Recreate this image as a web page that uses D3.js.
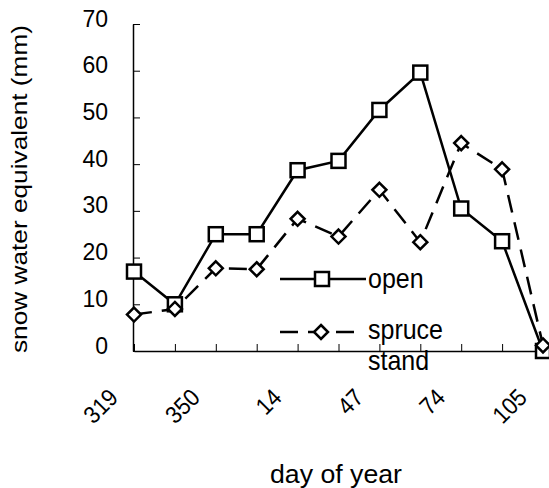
<!DOCTYPE html>
<html>
<head>
<meta charset="utf-8">
<script src="https://cdn.jsdelivr.net/npm/d3@7/dist/d3.min.js"></script>
<style>
  html, body { margin: 0; padding: 0; background: #fff; }
  svg { display: block; font-family: "Liberation Sans", Arial, sans-serif; }
</style>
</head>
<body>
<svg id="chart" width="549" height="488"></svg>
<script>
// ---- data ----
const categories = [1, 2, 3, 4, 5, 6, 7, 8, 9, 10, 11];
const dayLabels = ["319", "", "350", "", "14", "", "47", "", "74", "", "105"];
const openValues = [17, 10, 25, 25, 38.7, 40.7, 51.6, 59.6, 30.5, 23.5, 0];
const spruceValues = [7.8, 9, 17.7, 17.5, 28.3, 24.5, 34.5, 23.3, 44.5, 38.9, 1.2];
const yTicks = [0, 10, 20, 30, 40, 50, 60, 70];
const seriesNames = ["open", "spruce"];

const svg = d3.select("#chart");
const x = d3.scalePoint().domain(categories).range([134, 543]);
const y = d3.scaleLinear().domain([0, 70]).range([351, 24]);

// ---- axes ----
const xAxis = svg.append("g")
  .attr("transform", "translate(0,351)")
  .call(d3.axisBottom(x).tickSizeInner(-7).tickSizeOuter(0)
    .tickFormat((d, i) => dayLabels[i]));
xAxis.select(".domain").attr("stroke", "#000").attr("stroke-width", 1.5);
xAxis.selectAll(".tick line").attr("stroke", "#000").attr("stroke-width", 1);
xAxis.selectAll(".tick text")
  .attr("x", 0).attr("y", 0).attr("dy", 0)
  .attr("transform", "translate(-15,48) rotate(-45) scale(1,1.1)")
  .attr("text-anchor", "end")
  .attr("font-size", 22)
  .attr("font-family", "Liberation Sans, Arial, sans-serif")
  .attr("fill", "#000");

const yAxis = svg.append("g")
  .attr("transform", "translate(133,0)")
  .call(d3.axisLeft(y).tickValues(yTicks).tickSizeInner(-7).tickSizeOuter(0));
yAxis.select(".domain").attr("stroke", "#000").attr("stroke-width", 1.5);
yAxis.selectAll(".tick line").attr("stroke", "#000").attr("stroke-width", 1);
yAxis.selectAll(".tick text")
  .attr("x", -25).attr("dy", "0.35em")
  .attr("transform", "translate(0,-6)")
  .attr("text-anchor", "end")
  .attr("font-size", 23)
  .attr("font-family", "Liberation Sans, Arial, sans-serif")
  .attr("fill", "#000");

// ---- titles ----
svg.append("text")
  .attr("x", 336).attr("y", 483)
  .attr("text-anchor", "middle")
  .attr("font-size", 25)
  .attr("textLength", 132).attr("lengthAdjust", "spacingAndGlyphs")
  .text("day of year");

svg.append("text")
  .attr("transform", "translate(27,189) rotate(-90)")
  .attr("text-anchor", "middle")
  .attr("font-size", 22)
  .attr("textLength", 328).attr("lengthAdjust", "spacingAndGlyphs")
  .text("snow water equivalent (mm)");

// ---- series ----
const line = d3.line().x((d, i) => x(categories[i])).y(d => y(d));
const dash = "18,10";

svg.append("path").datum(openValues)
  .attr("d", line).attr("fill", "none")
  .attr("stroke", "#000").attr("stroke-width", 2.5);

svg.append("g").selectAll("rect").data(openValues).join("rect")
  .attr("x", (d, i) => x(categories[i]) - 7)
  .attr("y", d => y(d) - 7)
  .attr("width", 14).attr("height", 14)
  .attr("fill", "#fff").attr("stroke", "#000").attr("stroke-width", 2.5);

svg.append("path").datum(spruceValues)
  .attr("d", line).attr("fill", "none")
  .attr("stroke", "#000").attr("stroke-width", 2.5)
  .attr("stroke-dasharray", dash);

const diamond = "M0,-7L7,0L0,7L-7,0Z";
svg.append("g").selectAll("path").data(spruceValues).join("path")
  .attr("transform", (d, i) => `translate(${x(categories[i])},${y(d)})`)
  .attr("d", diamond)
  .attr("fill", "#fff").attr("stroke", "#000").attr("stroke-width", 2.5);

// ---- legend ----
const leg = svg.append("g");
leg.append("line").attr("x1", 280).attr("x2", 366).attr("y1", 279).attr("y2", 279)
  .attr("stroke", "#000").attr("stroke-width", 2.5);
leg.append("rect").attr("x", 315).attr("y", 272).attr("width", 14).attr("height", 14)
  .attr("fill", "#fff").attr("stroke", "#000").attr("stroke-width", 2.5);
leg.append("text").attr("transform", "translate(368,288) scale(1,1.1)")
  .attr("font-size", 25).text(seriesNames[0]);

leg.append("line").attr("x1", 280).attr("x2", 355).attr("y1", 332).attr("y2", 332)
  .attr("stroke", "#000").attr("stroke-width", 2.5).attr("stroke-dasharray", dash);
leg.append("path").attr("transform", "translate(321,332)").attr("d", diamond)
  .attr("fill", "#fff").attr("stroke", "#000").attr("stroke-width", 2.5);
leg.append("text").attr("transform", "translate(368,339) scale(1,1.1)")
  .attr("font-size", 25).text(seriesNames[1]);
leg.append("text").attr("transform", "translate(368,370) scale(1,1.1)")
  .attr("font-size", 25).text("stand");
</script>
</body>
</html>
